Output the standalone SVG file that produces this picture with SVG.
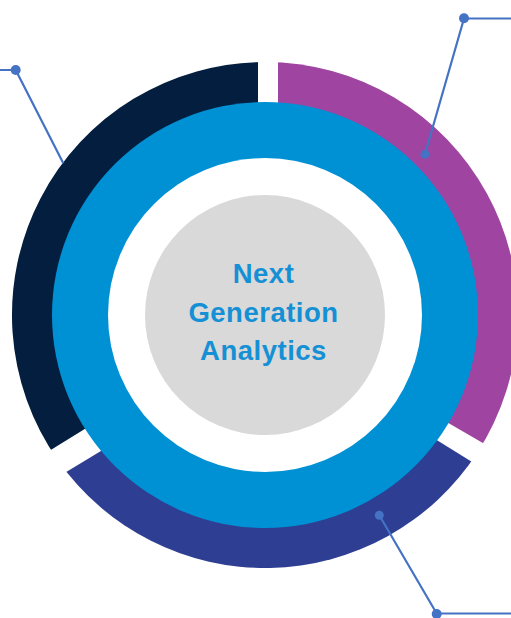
<svg xmlns="http://www.w3.org/2000/svg" width="511" height="618" viewBox="0 0 511 618">
  <style>
    .link { fill: none; stroke: #4472C4; stroke-width: 2.2; stroke-linejoin: round; }
    .dot { fill: #4472C4; }
    .label { font-family: "Liberation Sans", Arial, sans-serif; font-weight: bold; font-size: 27.5px; letter-spacing: 0.5px; fill: #1590D5; text-anchor: middle; }
  </style>
  <defs>
    <!-- white gaps cut between the three outer segments -->
    <mask id="gaps" maskUnits="userSpaceOnUse" x="0" y="0" width="511" height="618">
      <rect x="0" y="0" width="511" height="618" fill="#fff"/>
      <rect x="258" y="40" width="20" height="80" fill="#000"/>
      <polygon points="20,469 130,401 146,423.7 36,490.3" fill="#000"/>
      <polygon points="410,400.8 520,464.6 520,491.6 400,417.2" fill="#000"/>
    </mask>
  </defs>

  <rect width="511" height="618" fill="#fff"/>

  <!-- outer segments -->
  <g mask="url(#gaps)">
    <g id="segment-left">
      <path d="M265,315 L58.35,461 A253,253 0 0 1 265,62 Z" fill="#041E3F"/>
    </g>
    <g id="segment-right">
      <path d="M265,315 L265,62 A253,253 0 0 1 477.4,452.4 Z" fill="#9F44A0"/>
    </g>
    <g id="segment-bottom">
      <path d="M265,315 L477.4,452.4 A253,253 0 0 1 58.35,461 Z" fill="#2E3E92"/>
    </g>
  </g>

  <!-- middle ring -->
  <g id="ring">
    <circle cx="265" cy="315" r="213" fill="#0090D4"/>
    <circle cx="265" cy="315" r="157" fill="#fff"/>
  </g>

  <!-- centre hub -->
  <g id="hub">
    <circle cx="265" cy="315" r="120" fill="#D9D9D9"/>
    <text class="label" x="263.5" y="283.3">Next</text>
    <text class="label" x="263.5" y="322.3">Generation</text>
    <text class="label" x="263.5" y="360">Analytics</text>
  </g>

  <!-- callout connectors -->
  <g id="connectors">
    <polyline class="link" points="0,70 15.7,70 63.3,163.3"/>
    <circle class="dot" cx="15.7" cy="70" r="5"/>

    <polyline class="link" points="511,18.5 464,18.5 425,154.3"/>
    <circle class="dot" cx="464" cy="18.3" r="5"/>
    <circle class="dot" cx="425" cy="154.3" r="4.5"/>

    <polyline class="link" points="379.3,515.3 436.7,613.5 511,613.5"/>
    <circle class="dot" cx="379.3" cy="515.3" r="4.5"/>
    <circle class="dot" cx="436.7" cy="614" r="5"/>
  </g>
</svg>
